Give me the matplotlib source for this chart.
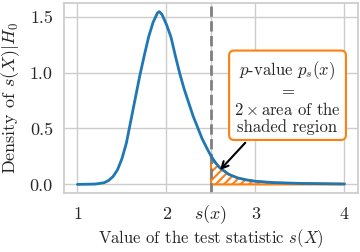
import matplotlib
matplotlib.use("Agg")
import matplotlib.pyplot as plt
import numpy as np
import seaborn as sns

# density of the test statistic under H0
stat = [1.0, 1.2, 1.3, 1.35, 1.4, 1.45, 1.5, 1.55, 1.6, 1.65, 1.7, 1.75, 1.8,
        1.85, 1.9, 1.92, 1.95, 2.0, 2.05, 2.1, 2.15, 2.2, 2.25, 2.3, 2.35,
        2.4, 2.45, 2.5, 2.55, 2.6, 2.7, 2.8, 2.9, 3.0, 3.2, 3.5, 4.0]
density = [0.0, 0.003, 0.015, 0.035, 0.07, 0.13, 0.23, 0.37, 0.57, 0.77,
           0.97, 1.15, 1.32, 1.45, 1.535, 1.545, 1.52, 1.43, 1.32, 1.15,
           0.99, 0.85, 0.73, 0.61, 0.51, 0.41, 0.33, 0.255, 0.195, 0.148,
           0.09, 0.058, 0.04, 0.028, 0.016, 0.009, 0.004]
s_obs = 2.5

xticks = [1, 2, s_obs, 3, 4]
xticklabels = ["1", "2", "$s(x)$", "3", "4"]
yticks = [0.0, 0.5, 1.0, 1.5]
yticklabels = ["0.0", "0.5", "1.0", "1.5"]

sns.set_theme(style="whitegrid")
plt.rcParams["font.family"] = "serif"
plt.rcParams["font.serif"] = ["cmr10"]
plt.rcParams["mathtext.fontset"] = "cm"
plt.rcParams["axes.formatter.use_mathtext"] = True
plt.rcParams["hatch.linewidth"] = 1.5

fig = plt.figure(figsize=(3.6, 2.52), dpi=100)
ax = fig.add_axes([0.178, 0.234, 0.816, 0.754])

x = np.array(stat)
y = np.array(density)
ax.plot(x, y, color="#1f77b4", lw=2, zorder=3)

mask = x >= s_obs
ax.fill_between(x[mask], y[mask], facecolor="none", edgecolor="#ff7f0e",
                hatch="////", lw=1.5, zorder=2)
ax.axvline(s_obs, color="gray", ls="--", lw=2, zorder=2.5)

ax.annotate("$p$-value $p_s(x)$\n=\n$2\\times$area of the\nshaded region",
            xy=(2.58, 0.11), xytext=(3.36, 0.78), ha="center", va="center",
            fontsize=12, linespacing=1.12,
            bbox=dict(boxstyle="round", fc="white", ec="#ff7f0e", lw=1.5),
            arrowprops=dict(arrowstyle="->", color="black", lw=1.5),
            zorder=4)

ax.set_xticks(xticks)
ax.set_xticklabels(xticklabels)
ax.set_yticks(yticks)
ax.set_yticklabels(yticklabels)
ax.tick_params(axis="both", length=0, labelsize=13)
ax.tick_params(axis="x", pad=18.7)
ax.tick_params(axis="y", pad=8)
for lab in ax.get_xticklabels():
    lab.set_va("baseline")

ax.set_xlabel("Value of the test statistic $s(X)$", fontsize=12)
ax.set_ylabel("Density of $s(X)|H_0$", fontsize=13)
ax.xaxis.label.set_va("baseline")
ax.xaxis.set_label_coords(0.5, -0.263)
ax.yaxis.set_label_coords(-0.143, 0.5)

fig.savefig("out.png", dpi=100)
